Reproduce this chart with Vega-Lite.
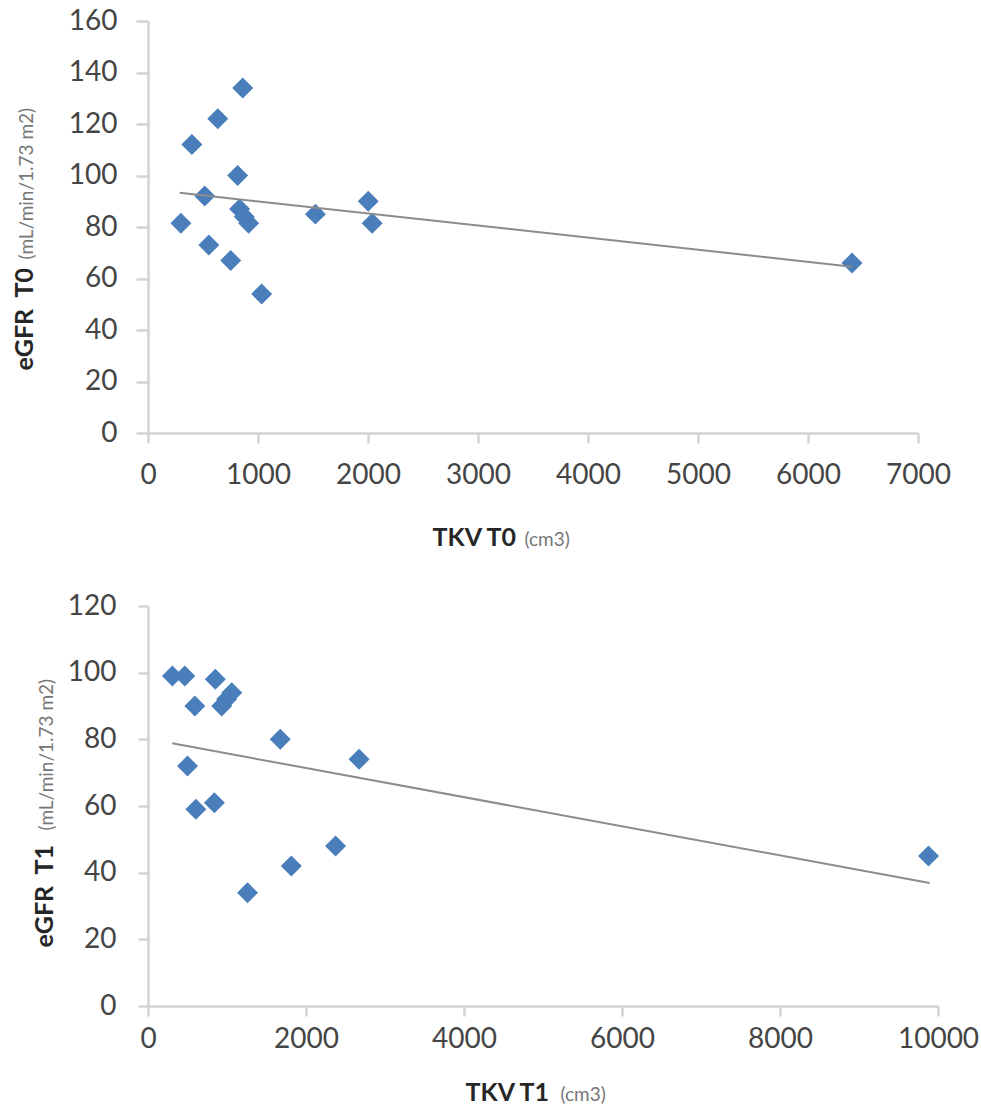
{
  "$schema": "https://vega.github.io/schema/vega-lite/v6.json",
  "padding": {"left": 12, "top": 7, "right": 2, "bottom": 5},
  "spacing": 42,
  "config": {
    "view": {"stroke": null},
    "font": "Lato",
    "axis": {
      "grid": false,
      "domainColor": "#d3d3d3",
      "domainWidth": 2.5,
      "tickColor": "#d3d3d3",
      "tickWidth": 2.5,
      "labelFont": "Lato",
      "labelFontSize": 28,
      "labelColor": "#454545",
      "labelFlush": false,
      "labelOverlap": false,
      "titleFont": "Lato"
    }
  },
  "datasets": {
    "t0": [
      {"tkv": 299, "egfr": 81.5}, {"tkv": 399, "egfr": 112}, {"tkv": 516, "egfr": 92},
      {"tkv": 553, "egfr": 73}, {"tkv": 634, "egfr": 122}, {"tkv": 752, "egfr": 67},
      {"tkv": 815, "egfr": 100}, {"tkv": 861, "egfr": 134}, {"tkv": 833, "egfr": 87},
      {"tkv": 875, "egfr": 84}, {"tkv": 915, "egfr": 81.5}, {"tkv": 1033, "egfr": 54},
      {"tkv": 1522, "egfr": 85}, {"tkv": 2002, "egfr": 90}, {"tkv": 2038, "egfr": 81.5},
      {"tkv": 6400, "egfr": 66}
    ],
    "t0trend": [{"tkv": 287, "egfr": 93.3}, {"tkv": 6400, "egfr": 64.6}],
    "t1": [
      {"tkv": 309, "egfr": 99}, {"tkv": 466, "egfr": 99}, {"tkv": 593, "egfr": 90},
      {"tkv": 500, "egfr": 72}, {"tkv": 606, "egfr": 59}, {"tkv": 840, "egfr": 61},
      {"tkv": 852, "egfr": 98}, {"tkv": 933, "egfr": 90}, {"tkv": 995, "egfr": 92},
      {"tkv": 1060, "egfr": 94}, {"tkv": 1260, "egfr": 34}, {"tkv": 1674, "egfr": 80},
      {"tkv": 1814, "egfr": 42}, {"tkv": 2374, "egfr": 48}, {"tkv": 2672, "egfr": 74},
      {"tkv": 9880, "egfr": 45}
    ],
    "t1trend": [{"tkv": 306, "egfr": 78.8}, {"tkv": 9894, "egfr": 36.9}]
  },
  "vconcat": [
    {
      "width": 770,
      "height": 412,
      "resolve": {"axis": {"x": "independent", "y": "independent"}},
      "layer": [
        {
          "data": {"name": "t0"},
          "mark": {"type": "point", "shape": "diamond", "filled": true, "size": 440, "color": "#4A7EBB", "opacity": 1},
          "encoding": {
            "x": {
              "field": "tkv", "type": "quantitative",
              "scale": {"domain": [0, 7000], "nice": false},
              "axis": {
                "orient": "bottom",
                "values": [0, 1000, 2000, 3000, 4000, 5000, 6000, 7000],
                "format": "d",
                "tickSize": 10, "labelPadding": 18,
                "title": "TKV T0", "titleFontSize": 25, "titleFontWeight": "bold", "titleColor": "#262626",
                "titleX": 284, "titleY": 112, "titleAlign": "left", "titleBaseline": "alphabetic"
              }
            },
            "y": {
              "field": "egfr", "type": "quantitative",
              "scale": {"domain": [0, 160], "nice": false},
              "axis": {
                "orient": "left",
                "values": [0, 20, 40, 60, 80, 100, 120, 140, 160],
                "format": "d",
                "tickSize": 12, "labelPadding": 19,
                "title": "eGFR\u00a0 T0", "titleFontSize": 25, "titleFontWeight": "bold", "titleColor": "#262626",
                "titleAngle": -90, "titleX": -116, "titleY": 349, "titleAlign": "left", "titleBaseline": "alphabetic"
              }
            }
          }
        },
        {
          "data": {"name": "t0trend"},
          "mark": {"type": "line", "color": "#8c8c8c", "strokeWidth": 2},
          "encoding": {
            "x": {
              "field": "tkv", "type": "quantitative",
              "axis": {
                "orient": "bottom", "labels": false, "ticks": false, "domain": false,
                "title": "(cm3)", "titleFontSize": 19, "titleFontWeight": "normal", "titleColor": "#777777",
                "titleX": 376, "titleY": 112, "titleAlign": "left", "titleBaseline": "alphabetic"
              }
            },
            "y": {
              "field": "egfr", "type": "quantitative",
              "axis": {
                "orient": "left", "labels": false, "ticks": false, "domain": false,
                "title": "(mL/min/1.73 m2)", "titleFontSize": 19, "titleFontWeight": "normal", "titleColor": "#777777",
                "titleAngle": -90, "titleX": -116, "titleY": 238, "titleAlign": "left", "titleBaseline": "alphabetic"
              }
            }
          }
        }
      ]
    },
    {
      "width": 790,
      "height": 400,
      "resolve": {"axis": {"x": "independent", "y": "independent"}},
      "layer": [
        {
          "data": {"name": "t1"},
          "mark": {"type": "point", "shape": "diamond", "filled": true, "size": 440, "color": "#4A7EBB", "opacity": 1},
          "encoding": {
            "x": {
              "field": "tkv", "type": "quantitative",
              "scale": {"domain": [0, 10000], "nice": false},
              "axis": {
                "orient": "bottom",
                "values": [0, 2000, 4000, 6000, 8000, 10000],
                "format": "d",
                "tickSize": 10, "labelPadding": 9,
                "title": "TKV T1", "titleFontSize": 25, "titleFontWeight": "bold", "titleColor": "#262626",
                "titleX": 317, "titleY": 94, "titleAlign": "left", "titleBaseline": "alphabetic"
              }
            },
            "y": {
              "field": "egfr", "type": "quantitative",
              "scale": {"domain": [0, 120], "nice": false},
              "axis": {
                "orient": "left",
                "values": [0, 20, 40, 60, 80, 100, 120],
                "format": "d",
                "tickSize": 10, "labelPadding": 22,
                "title": "eGFR\u00a0 T1", "titleFontSize": 25, "titleFontWeight": "bold", "titleColor": "#262626",
                "titleAngle": -90, "titleX": -96, "titleY": 341, "titleAlign": "left", "titleBaseline": "alphabetic"
              }
            }
          }
        },
        {
          "data": {"name": "t1trend"},
          "mark": {"type": "line", "color": "#8c8c8c", "strokeWidth": 2},
          "encoding": {
            "x": {
              "field": "tkv", "type": "quantitative",
              "axis": {
                "orient": "bottom", "labels": false, "ticks": false, "domain": false,
                "title": "(cm3)", "titleFontSize": 19, "titleFontWeight": "normal", "titleColor": "#777777",
                "titleX": 412, "titleY": 94, "titleAlign": "left", "titleBaseline": "alphabetic"
              }
            },
            "y": {
              "field": "egfr", "type": "quantitative",
              "axis": {
                "orient": "left", "labels": false, "ticks": false, "domain": false,
                "title": "(mL/min/1.73 m2)", "titleFontSize": 19, "titleFontWeight": "normal", "titleColor": "#777777",
                "titleAngle": -90, "titleX": -96, "titleY": 224, "titleAlign": "left", "titleBaseline": "alphabetic"
              }
            }
          }
        }
      ]
    }
  ]
}
